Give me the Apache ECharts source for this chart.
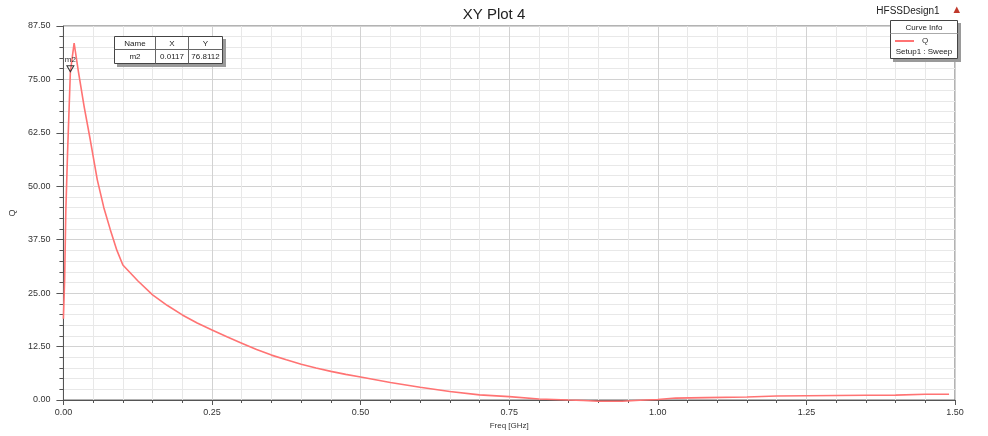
<!DOCTYPE html>
<html>
<head>
<meta charset="utf-8">
<script src="https://cdn.jsdelivr.net/npm/echarts@6/dist/echarts.min.js"></script>
<style>
html,body{margin:0;padding:0;background:#fff;}
#chart{width:988px;height:436px;}
</style>
</head>
<body>
<div id="chart"></div>
<script>
// Data
var freqGHz = [0, 0.002, 0.004, 0.007, 0.0117, 0.018, 0.025, 0.035, 0.045, 0.057, 0.068, 0.079, 0.09, 0.1, 0.125, 0.15, 0.175, 0.2, 0.225, 0.25, 0.275, 0.3, 0.325, 0.35, 0.375, 0.4, 0.425, 0.45, 0.475, 0.5, 0.55, 0.6, 0.65, 0.7, 0.75, 0.8, 0.85, 0.875, 0.9, 0.94, 0.97, 1.0, 1.03, 1.08, 1.15, 1.2, 1.25, 1.3, 1.35, 1.4, 1.45, 1.49];
var qValues = [19, 28, 44, 58, 76.8, 83.5, 77, 68.5, 61, 51.5, 45, 39.8, 35, 31.6, 27.9, 24.6, 22.1, 19.9, 18.0, 16.4, 14.8, 13.3, 11.8, 10.5, 9.4, 8.35, 7.5, 6.7, 6.0, 5.4, 4.1, 3.0, 2.0, 1.2, 0.8, 0.25, 0.0, -0.1, -0.3, -0.3, -0.05, 0.1, 0.45, 0.55, 0.7, 0.95, 1.0, 1.05, 1.1, 1.15, 1.33, 1.35];
var seriesName = 'Q';
var markerName = 'm2';
var markerX = 0.0117;
var markerY = 76.8112;
var xTicks = [0, 0.25, 0.5, 0.75, 1.0, 1.25, 1.5];
var yTicks = [0, 12.5, 25, 37.5, 50, 62.5, 75, 87.5];

var data = freqGHz.map(function (x, i) { return [x, qValues[i]]; });

var chart = echarts.init(document.getElementById('chart'));
var font = 'Liberation Sans, Arial, sans-serif';
var lineColor = '#ff7373';

chart.setOption({
  animation: false,
  backgroundColor: '#ffffff',
  title: {
    text: 'XY Plot 4',
    left: 'center',
    top: 2,
    textStyle: { fontFamily: font, fontSize: 15, fontWeight: 'normal', color: '#222' }
  },
  legend: {
    data: [seriesName],
    left: 895,
    top: 37,
    padding: 0,
    z: 30,
    icon: 'rect',
    itemWidth: 19,
    itemHeight: 2,
    itemGap: 4,
    textStyle: { fontFamily: font, fontSize: 8, color: '#333', padding: [0, 0, 0, 3] }
  },
  grid: {
    left: 61, right: 33, top: 26, bottom: 36,
    show: true, borderColor: '#666', borderWidth: 1, backgroundColor: '#fff'
  },
  xAxis: {
    type: 'value',
    min: xTicks[0],
    max: xTicks[xTicks.length - 1],
    interval: 0.25,
    name: 'Freq [GHz]',
    nameLocation: 'middle',
    nameGap: 22,
    nameTextStyle: { fontFamily: font, fontSize: 8, color: '#333' },
    axisLine: { show: true, onZero: false, lineStyle: { color: '#555', width: 1 } },
    axisTick: { show: true, length: 5, lineStyle: { color: '#555' } },
    minorTick: { show: true, splitNumber: 5, length: 3, lineStyle: { color: '#555' } },
    axisLabel: {
      margin: 8, fontFamily: font, fontSize: 9, color: '#333',
      formatter: function (v) { return v.toFixed(2); }
    },
    splitLine: { show: true, lineStyle: { color: '#d2d2d2', width: 1 } },
    minorSplitLine: { show: true, lineStyle: { color: '#e8e8e8', width: 1 } }
  },
  yAxis: {
    type: 'value',
    min: yTicks[0],
    max: yTicks[yTicks.length - 1],
    interval: 12.5,
    name: 'Q',
    nameLocation: 'middle',
    nameGap: 42,
    nameRotate: 90,
    nameTextStyle: { fontFamily: font, fontSize: 9, color: '#333' },
    axisLine: { show: true, lineStyle: { color: '#555', width: 1 } },
    axisTick: { show: true, length: 7, lineStyle: { color: '#555' } },
    minorTick: { show: true, splitNumber: 5, length: 4, lineStyle: { color: '#555' } },
    axisLabel: {
      margin: 13, fontFamily: font, fontSize: 9, color: '#333',
      formatter: function (v) { return v.toFixed(2); }
    },
    splitLine: { show: true, lineStyle: { color: '#d2d2d2', width: 1 } },
    minorSplitLine: { show: true, lineStyle: { color: '#e8e8e8', width: 1 } }
  },
  series: [{
    name: seriesName,
    type: 'line',
    data: data,
    showSymbol: false,
    clip: false,
    color: lineColor,
    lineStyle: { color: lineColor, width: 1.6 },
    markPoint: {
      silent: true,
      symbol: 'triangle',
      symbolSize: [7, 6],
      symbolRotate: 180,
      symbolOffset: [0, -3],
      itemStyle: { color: 'rgba(255,255,255,0)', borderColor: '#333', borderWidth: 1 },
      label: {
        show: true, position: 'top', distance: 1,
        formatter: markerName, fontFamily: font, fontSize: 8, color: '#333'
      },
      data: [{ coord: [markerX, markerY] }]
    }
  }],
  graphic: [
    // Marker table
    { type: 'rect', shape: { x: 117, y: 39, width: 109, height: 28 }, style: { fill: '#9a9a9a' }, z: 10 },
    { type: 'rect', shape: { x: 114.5, y: 36.5, width: 108, height: 27 }, style: { fill: '#fff', stroke: '#444', lineWidth: 1 }, z: 11 },
    { type: 'line', shape: { x1: 114.5, y1: 49.5, x2: 222.5, y2: 49.5 }, style: { stroke: '#666', lineWidth: 1 }, z: 12 },
    { type: 'line', shape: { x1: 155.5, y1: 36.5, x2: 155.5, y2: 63.5 }, style: { stroke: '#666', lineWidth: 1 }, z: 12 },
    { type: 'line', shape: { x1: 188.5, y1: 36.5, x2: 188.5, y2: 63.5 }, style: { stroke: '#666', lineWidth: 1 }, z: 12 },
    { type: 'text', x: 135, y: 43.5, style: { text: 'Name', fontFamily: font, fontSize: 8, fill: '#222', align: 'center', verticalAlign: 'middle' }, z: 13 },
    { type: 'text', x: 172, y: 43.5, style: { text: 'X', fontFamily: font, fontSize: 8, fill: '#222', align: 'center', verticalAlign: 'middle' }, z: 13 },
    { type: 'text', x: 205.5, y: 43.5, style: { text: 'Y', fontFamily: font, fontSize: 8, fill: '#222', align: 'center', verticalAlign: 'middle' }, z: 13 },
    { type: 'text', x: 135, y: 57, style: { text: markerName, fontFamily: font, fontSize: 8, fill: '#222', align: 'center', verticalAlign: 'middle' }, z: 13 },
    { type: 'text', x: 172, y: 57, style: { text: markerX.toFixed(4), fontFamily: font, fontSize: 8, fill: '#222', align: 'center', verticalAlign: 'middle' }, z: 13 },
    { type: 'text', x: 205.5, y: 57, style: { text: markerY.toFixed(4), fontFamily: font, fontSize: 8, fill: '#222', align: 'center', verticalAlign: 'middle' }, z: 13 },
    // Curve info box
    { type: 'rect', shape: { x: 893, y: 23, width: 68, height: 39 }, style: { fill: '#9a9a9a' }, z: 10 },
    { type: 'rect', shape: { x: 890.5, y: 20.5, width: 67, height: 38 }, style: { fill: '#fff', stroke: '#444', lineWidth: 1 }, z: 11 },
    { type: 'line', shape: { x1: 890.5, y1: 33.5, x2: 957.5, y2: 33.5 }, style: { stroke: '#aaa', lineWidth: 1 }, z: 12 },
    { type: 'text', x: 924, y: 27.5, style: { text: 'Curve Info', fontFamily: font, fontSize: 8, fill: '#222', align: 'center', verticalAlign: 'middle' }, z: 13 },
    { type: 'text', x: 924, y: 52, style: { text: 'Setup1 : Sweep', fontFamily: font, fontSize: 8, fill: '#222', align: 'center', verticalAlign: 'middle' }, z: 13 },
    // Design name and triangle
    { type: 'text', x: 908, y: 11, style: { text: 'HFSSDesign1', fontFamily: font, fontSize: 10, fill: '#222', align: 'center', verticalAlign: 'middle' }, z: 13 },
    { type: 'polygon', shape: { points: [[953.5, 13], [960, 13], [956.75, 6.5]] }, style: { fill: '#c0392b' }, z: 13 }
  ]
});
</script>
</body>
</html>
